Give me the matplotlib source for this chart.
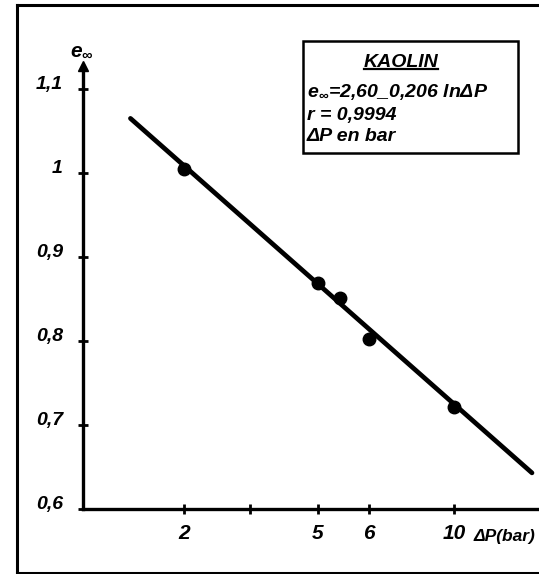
import numpy as np
import matplotlib
matplotlib.use("Agg")
import matplotlib.pyplot as plt
from matplotlib.ticker import NullLocator
from matplotlib.lines import Line2D
from matplotlib.patches import Rectangle

# ---------------- data ----------------
dp_points = [2, 5, 5.4, 6, 10]
e_points = [1.005, 0.869, 0.851, 0.802, 0.721]
fit_dp = [1.44, 16.0]
fit_e = [1.065, 0.643]
x_ticks = [2, 3, 5, 6, 10]
x_ticklabels = ["2", "", "5", "6", "10"]
y_ticks = [0.6, 0.7, 0.8, 0.9, 1.0, 1.1]
y_ticklabels = ["0,6", "0,7", "0,8", "0,9", "1", "1,1"]
box_title = "KAOLIN"
box_lines = ["e$_{\\infty}$=2,60_0,206 lnΔP", "r = 0,9994", "ΔP en bar"]
y_label = "e$_{\\infty}$"
x_label = "ΔP(bar)"

# ---------------- style ----------------
FONT = "Liberation Sans"
plt.rcParams["font.family"] = [FONT, "DejaVu Sans"]
plt.rcParams["font.weight"] = "bold"
plt.rcParams["font.style"] = "italic"
plt.rcParams["mathtext.fontset"] = "custom"
plt.rcParams["mathtext.rm"] = FONT + ":italic:bold"
plt.rcParams["mathtext.it"] = FONT + ":italic:bold"
plt.rcParams["mathtext.bf"] = FONT + ":italic:bold"

W, H = 539, 574
fig = plt.figure(figsize=(W / 100, H / 100), dpi=100)


def fx(px):
    return px / W


def fy(py):
    return 1 - py / H


# hand-drawn logarithmic axis: pixel position of each decade mark from the origin
KNOT_DP = np.array([1, 2, 3, 5, 6, 10, 20], dtype=float)
KNOT_POS = np.array([-12, 101, 167, 235, 286, 371, 486], dtype=float)
KNOT_LOG = np.log10(KNOT_DP)


def fwd(x):
    x = np.clip(np.asarray(x, dtype=float), 1e-9, None)
    return np.interp(np.log10(x), KNOT_LOG, KNOT_POS)


def inv(p):
    return 10 ** np.interp(np.asarray(p, dtype=float), KNOT_POS, KNOT_LOG)


ax_left, ax_bottom_px, ax_top_px = 83, 509, 66
ax = fig.add_axes([fx(ax_left), fy(ax_bottom_px), 1 - fx(ax_left),
                   (ax_bottom_px - ax_top_px) / H])
ax.set_xscale("function", functions=(fwd, inv))
ax.set_xlim(float(inv(0)), float(inv(W - ax_left)))
ax.set_ylim(0.6, 0.6 + (ax_bottom_px - ax_top_px) / 840)

ax.plot(fit_dp, fit_e, color="black", lw=3.4, solid_capstyle="round", zorder=3)
ax.plot(dp_points, e_points, "o", color="black", ms=9, zorder=4)

for s in ["top", "right"]:
    ax.spines[s].set_visible(False)
for s in ["left", "bottom"]:
    ax.spines[s].set_linewidth(2.4)
ax.patch.set_alpha(0)

ax.set_xticks(x_ticks, x_ticklabels)
ax.xaxis.set_minor_locator(NullLocator())
ax.set_yticks(y_ticks, y_ticklabels)
ax.yaxis.set_minor_locator(NullLocator())
ax.tick_params(axis="both", direction="inout", length=7, width=2, color="black")
ax.tick_params(axis="x", labelsize=15, pad=7)
ax.tick_params(axis="y", labelsize=14, pad=11)
for lbl in ax.get_yticklabels():
    lbl.set_verticalalignment("baseline")

# arrow on the y axis
ax.plot([0], [1], marker="^", ms=7, color="black", transform=ax.transAxes,
        clip_on=False, zorder=5)

# axis labels
fig.text(fx(70), fy(56), y_label, fontsize=15, ha="left", va="baseline")
fig.text(fx(474), fy(541), x_label, fontsize=12.5, ha="left", va="baseline")

# info box
fig.patches.append(Rectangle((fx(303), fy(153)), fx(518) - fx(303), fy(41) - fy(153),
                             transform=fig.transFigure, fill=False, lw=1.8,
                             edgecolor="black"))
t_title = fig.text(fx(401), fy(67), box_title, fontsize=14, ha="center", va="baseline")
baselines = [97, 120, 141]
for txt, b in zip(box_lines, baselines):
    fig.text(fx(307), fy(b), txt, fontsize=14, ha="left", va="baseline")

fig.canvas.draw()
bb = t_title.get_window_extent()
x0, x1 = bb.x0 / fig.dpi / fig.get_figwidth(), bb.x1 / fig.dpi / fig.get_figwidth()
fig.lines.append(Line2D([x0, x1], [fy(69.5), fy(69.5)], transform=fig.transFigure,
                        color="black", lw=1.6))

# outer frame (cut on the right)
frame_kw = dict(transform=fig.transFigure, color="black", lw=2.2)
fig.lines.append(Line2D([fx(17), fx(17)], [fy(5), fy(572.5)], **frame_kw))
fig.lines.append(Line2D([fx(17), 1], [fy(5), fy(5)], **frame_kw))
fig.lines.append(Line2D([fx(17), 1], [fy(572.5), fy(572.5)], **frame_kw))

fig.savefig("out.png", dpi=100)
